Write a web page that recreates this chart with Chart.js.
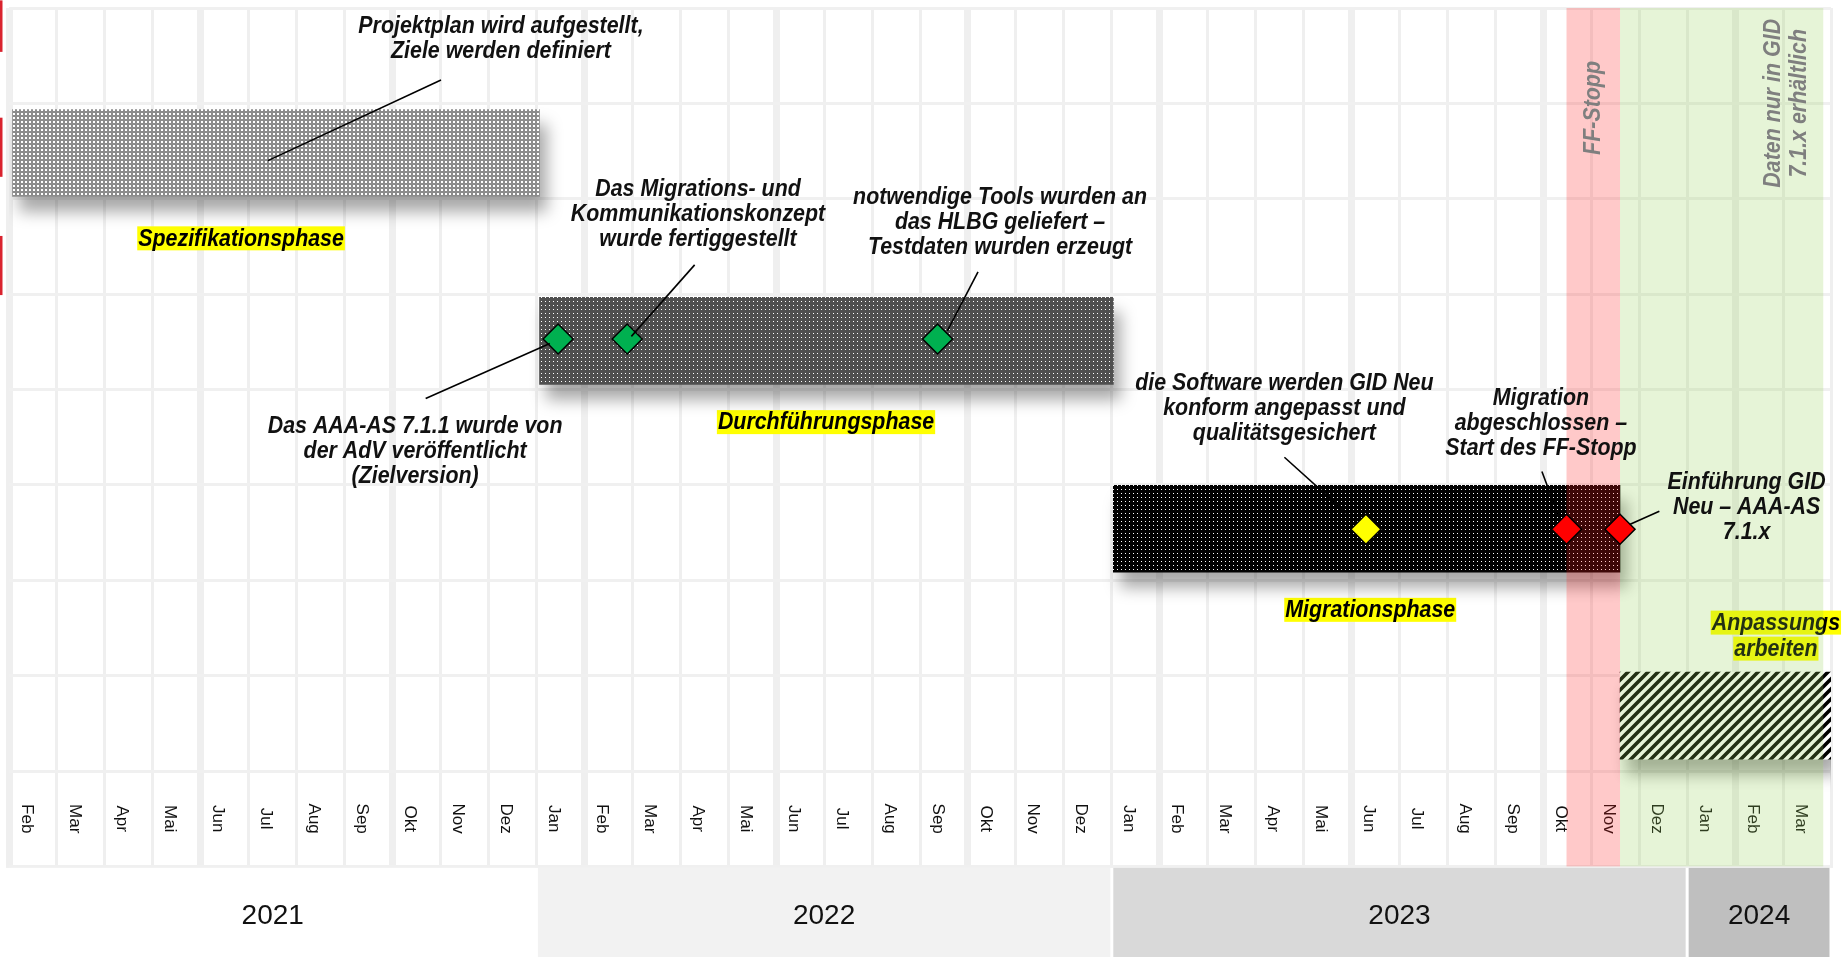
<!DOCTYPE html>
<html lang="de">
<head>
<meta charset="utf-8">
<title>Zeitplan Migration GID Neu</title>
<script src="https://cdn.jsdelivr.net/npm/chart.js@4.4.1/dist/chart.umd.min.js"></script>
<style>
  html, body { margin: 0; padding: 0; background: #fff; overflow: hidden; }
  #wrap { width: 1843px; height: 957px; position: relative; }
</style>
</head>
<body>
<div id="wrap"><canvas id="plan"></canvas></div>
<script>
// 10 Zeilen: 8 Planungszeilen, Monatszeile, Jahreszeile (unten angeschnitten)
const rowCount = 10;

// Monate auf der Zeitachse (Feb 2021 bis Mar 2024)
const months = ['Feb', 'Mar', 'Apr', 'Mai', 'Jun', 'Jul', 'Aug', 'Sep', 'Okt', 'Nov', 'Dez',
                'Jan', 'Feb', 'Mar', 'Apr', 'Mai', 'Jun', 'Jul', 'Aug', 'Sep', 'Okt', 'Nov', 'Dez',
                'Jan', 'Feb', 'Mar', 'Apr', 'Mai', 'Jun', 'Jul', 'Aug', 'Sep', 'Okt', 'Nov', 'Dez',
                'Jan', 'Feb', 'Mar'];

const years = ['2021', '2022', '2023', '2024'];
const yearStart = ['2021-02-01', '2022-01-01', '2023-01-01', '2024-01-01'];
const yearEnd = ['2022-01-01', '2023-01-01', '2024-01-01', '2024-04-01'];

// Projektphasen (Balken), Lage in Zeilen von oben
const phases = ['Spezifikationsphase', 'Durchführungsphase', 'Migrationsphase', 'Anpassungs\narbeiten'];
const phaseLane = [1.02, 2.99, 4.96, 6.92];
const phaseStart = ['2021-02-01', '2022-01-03', '2023-01-02', '2023-11-19'];
const phaseEnd = ['2022-01-03', '2023-01-02', '2023-11-19', '2024-04-01'];

// Meilensteine (Rauten)
const milestoneDate = ['2022-01-15', '2022-02-26', '2022-09-12', '2023-06-10', '2023-10-16', '2023-11-19'];
const milestoneLane = [2.97, 2.97, 2.97, 4.965, 4.965, 4.965];

// Zeitraeume im Hintergrund
const periods = ['FF-Stopp', 'Daten nur in GID\n7.1.x erhältlich'];
const periodStart = ['2023-10-16', '2023-11-19'];
const periodEnd = ['2023-11-19', '2024-03-27'];

// Beschriftungen der Meilensteine
const notes = [
    'Projektplan wird aufgestellt,\nZiele werden definiert',
    'Das AAA-AS 7.1.1 wurde von\nder AdV veröffentlicht\n(Zielversion)',
    'Das Migrations- und\nKommunikationskonzept\nwurde fertiggestellt',
    'notwendige Tools wurden an\ndas HLBG geliefert –\nTestdaten wurden erzeugt',
    'die Software werden GID Neu\nkonform angepasst und\nqualitätsgesichert',
    'Migration\nabgeschlossen –\nStart des FF-Stopp',
    'Einführung GID\nNeu – AAA-AS\n7.1.x'
];

// ---- Layout und Stil (Positionen in Monat / Zeile) ----
const noteLayout = [
    { at: [10.26, -0.30], from: [9.01, 0.255], to: [5.40, 1.10] },
    { at: [8.47, 3.892], from: [8.69, 3.594], to: [11.28, 3.018] },
    { at: [14.37, 1.408], from: [14.30, 2.193], to: [12.98, 2.943] },
    { at: [20.67, 1.487], from: [20.21, 2.267], to: [19.57, 2.884] },
    { at: [26.60, 3.435], from: [26.60, 4.21], to: [28.05, 4.866] },
    { at: [31.95, 3.594], from: [31.97, 4.359], to: [32.32, 4.826] },
    { at: [36.24, 4.478], from: [34.42, 4.777], to: [33.80, 4.916] }
];
const phaseLabelAt = [[4.84, 1.915], [17.04, 3.842], [28.39, 5.81], [36.85, 5.944]];
const periodLabelAt = [[33.05, 0.548], [37.07, 0.499]];
const periodColors = ['rgba(255, 30, 30, 0.24)', 'rgba(146, 208, 80, 0.23)'];
const yearColors = ['#ffffff', '#f2f2f2', '#d9d9d9', '#bfbfbf'];
const milestoneColors = ['#00b050', '#00b050', '#00b050', '#ffff00', '#ff0000', '#ff0000'];
const leftMarks = [[-0.58, -0.04], [0.65, 1.27], [1.89, 2.51]];

const noteFont = 'bold italic 23px "Liberation Sans", Arial, sans-serif';
const squeeze = 0.93;
const lineGap = 25;
const yMax = rowCount - 0.55;

// Datum -> Monate seit Feb 2021
function monthPos(d) {
    const [y, m, day] = d.split('-').map(Number);
    const dim = new Date(y, m, 0).getDate();
    return (y - 2021) * 12 + (m - 2) + (day - 1) / dim;
}

const canvas = document.getElementById('plan');
const mainCtx = canvas.getContext('2d');

// Punktraster fuer die Balken
function dotPattern(bg, size, dot) {
    const c = document.createElement('canvas');
    c.width = size; c.height = size;
    const g = c.getContext('2d');
    g.fillStyle = bg;
    g.fillRect(0, 0, size, size);
    g.fillStyle = '#ffffff';
    g.fillRect(1, 1, dot, dot);
    return mainCtx.createPattern(c, 'repeat');
}

// Schraffur fuer die Anpassungsarbeiten
function hatchPattern() {
    const s = 10;
    const c = document.createElement('canvas');
    c.width = s; c.height = s;
    const g = c.getContext('2d');
    g.fillStyle = '#ffffff';
    g.fillRect(0, 0, s, s);
    g.strokeStyle = '#000000';
    g.lineWidth = 3.6;
    g.beginPath();
    g.moveTo(-2, s + 2); g.lineTo(s + 2, -2);
    g.moveTo(-2, 2); g.lineTo(2, -2);
    g.moveTo(s - 2, s + 2); g.lineTo(s + 2, s - 2);
    g.stroke();
    return mainCtx.createPattern(c, 'repeat');
}

const barFills = [dotPattern('#8c8c8c', 4, 2), dotPattern('#4f4f4f', 4, 1), dotPattern('#000000', 4, 1), hatchPattern()];

function squeezedText(ctx, text, x, y) {
    ctx.save();
    ctx.translate(x, y);
    ctx.scale(squeeze, 1);
    ctx.fillText(text, 0, 0);
    ctx.restore();
}

// Monatsbeschriftung und Phasen-Etiketten (unter den Balken)
const labelPlugin = {
    id: 'labels',
    beforeDatasetsDraw(chart) {
        const ctx = chart.ctx;
        const xs = chart.scales.x, ys = chart.scales.y;
        const yMid = ys.getPixelForValue(8);
        ctx.save();
        ctx.fillStyle = '#111111';
        ctx.font = '17px "Liberation Sans", Arial, sans-serif';
        ctx.textAlign = 'center';
        ctx.textBaseline = 'middle';
        months.forEach((m, i) => {
            ctx.save();
            ctx.translate(xs.getPixelForValue(i + 0.36), yMid);
            ctx.rotate(Math.PI / 2);
            ctx.fillText(m, 0, 0);
            ctx.restore();
        });

        ctx.font = noteFont;
        phases.forEach((p, i) => {
            const x = xs.getPixelForValue(phaseLabelAt[i][0]);
            let y = ys.getPixelForValue(phaseLabelAt[i][1]);
            p.split('\n').forEach(line => {
                const w = ctx.measureText(line).width * squeeze;
                ctx.fillStyle = '#ffff00';
                ctx.fillRect(x - w / 2 - 1, y - 12, w + 2, 24);
                ctx.fillStyle = '#000000';
                squeezedText(ctx, line, x, y + 1);
                y += 26;
            });
        });
        ctx.restore();
    }
};

// Schatten der Balken, danach Zeitraeume und Jahresband
const bandPlugin = {
    id: 'bands',
    beforeDatasetDraw(chart, args) {
        if (args.index !== 0) return;
        const ctx = chart.ctx;
        ctx.save();
        ctx.shadowColor = 'rgba(0, 0, 0, 0.34)';
        ctx.shadowBlur = 16;
        ctx.shadowOffsetX = 7;
        ctx.shadowOffsetY = 15;
    },
    afterDatasetDraw(chart, args) {
        if (args.index !== 0) return;
        const ctx = chart.ctx;
        ctx.restore();
        const xs = chart.scales.x, ys = chart.scales.y;
        const top = chart.chartArea.top;
        const bandBottom = ys.getPixelForValue(8.5);
        ctx.save();
        periods.forEach((p, i) => {
            const x0 = xs.getPixelForValue(monthPos(periodStart[i]));
            const x1 = xs.getPixelForValue(monthPos(periodEnd[i]));
            ctx.fillStyle = periodColors[i];
            ctx.fillRect(x0, top, x1 - x0, bandBottom - top);
        });

        // Jahresband
        const yTop = bandBottom + 1.5, yBot = chart.height;
        ctx.fillStyle = '#ffffff';
        ctx.fillRect(0, yTop, chart.width, yBot - yTop);
        ctx.font = '28px "Liberation Sans", Arial, sans-serif';
        ctx.textAlign = 'center';
        ctx.textBaseline = 'middle';
        years.forEach((yr, i) => {
            const x0 = xs.getPixelForValue(monthPos(yearStart[i]));
            const x1 = xs.getPixelForValue(monthPos(yearEnd[i]));
            ctx.fillStyle = yearColors[i];
            ctx.fillRect(x0 + 1.5, yTop, x1 - x0 - 3, yBot - yTop);
            ctx.fillStyle = '#111111';
            ctx.fillText(yr, (x0 + x1) / 2, ys.getPixelForValue(9.02));
        });
        ctx.restore();
    }
};

// Hinweistexte, Fuehrungslinien, senkrechte Texte
const notePlugin = {
    id: 'notes',
    afterDatasetsDraw(chart) {
        const ctx = chart.ctx;
        const xs = chart.scales.x, ys = chart.scales.y;
        const px = p => [xs.getPixelForValue(p[0]), ys.getPixelForValue(p[1])];
        ctx.save();

        ctx.strokeStyle = '#000000';
        ctx.lineWidth = 1.6;
        noteLayout.forEach(n => {
            const a = px(n.from), b = px(n.to);
            ctx.beginPath();
            ctx.moveTo(a[0], a[1]);
            ctx.lineTo(b[0], b[1]);
            ctx.stroke();
        });

        ctx.font = noteFont;
        ctx.textAlign = 'center';
        ctx.textBaseline = 'middle';
        ctx.fillStyle = '#111111';
        notes.forEach((t, i) => {
            const [x, y] = px(noteLayout[i].at);
            t.split('\n').forEach((line, k) => squeezedText(ctx, line, x, y + k * lineGap));
        });

        ctx.fillStyle = '#7f7f7f';
        periods.forEach((t, i) => {
            const [x, y] = px(periodLabelAt[i]);
            const lines = t.split('\n');
            ctx.save();
            ctx.translate(x, y);
            ctx.rotate(-Math.PI / 2);
            lines.forEach((line, k) => {
                squeezedText(ctx, line, 0, (k - (lines.length - 1) / 2) * 26);
            });
            ctx.restore();
        });

        ctx.fillStyle = '#d9232e';
        leftMarks.forEach(m => {
            const y0 = ys.getPixelForValue(m[0]), y1 = ys.getPixelForValue(m[1]);
            ctx.fillRect(0, y0, 2.5, y1 - y0);
        });
        ctx.restore();
    }
};

new Chart(canvas, {
    type: 'bar',
    data: {
        datasets: [
            {
                label: 'Phasen',
                data: phases.map((p, i) => ({ x: [monthPos(phaseStart[i]), monthPos(phaseEnd[i])], y: phaseLane[i] })),
                backgroundColor: barFills,
                borderWidth: 0,
                barThickness: 87,
                order: 2
            },
            {
                type: 'scatter',
                label: 'Meilensteine',
                data: milestoneDate.map((d, i) => ({ x: monthPos(d), y: milestoneLane[i] })),
                pointStyle: 'rectRot',
                pointRadius: 15,
                pointHoverRadius: 15,
                backgroundColor: milestoneColors,
                borderColor: '#000000',
                borderWidth: 1.5,
                clip: false,
                order: 1
            }
        ]
    },
    options: {
        indexAxis: 'y',
        responsive: true,
        maintainAspectRatio: false,
        animation: false,
        events: [],
        layout: {
            autoPadding: false,
            padding: { top: 8, left: 9, right: 12, bottom: 0 }
        },
        plugins: {
            legend: { display: false },
            tooltip: { enabled: false }
        },
        scales: {
            x: {
                type: 'linear',
                min: 0,
                max: months.length,
                offset: false,
                ticks: { display: false, stepSize: 1, maxTicksLimit: 60 },
                border: { display: false },
                grid: {
                    color: '#efefef',
                    drawTicks: false,
                    offset: false,
                    lineWidth: ctx => (ctx.tick && ctx.tick.value % 4 === 0 ? 7 : 3)
                },
                afterFit: s => { s.height = 0; }
            },
            y: {
                type: 'linear',
                reverse: true,
                min: -0.5,
                max: yMax,
                offset: false,
                ticks: { display: false },
                border: { display: false },
                grid: { color: '#f0f0f0', lineWidth: 3, drawTicks: false, offset: false },
                afterBuildTicks: s => {
                    s.ticks = Array.from({ length: rowCount }, (_, i) => ({ value: i - 0.5 }));
                },
                afterFit: s => { s.width = 0; }
            }
        }
    },
    plugins: [labelPlugin, bandPlugin, notePlugin]
});
</script>
</body>
</html>
